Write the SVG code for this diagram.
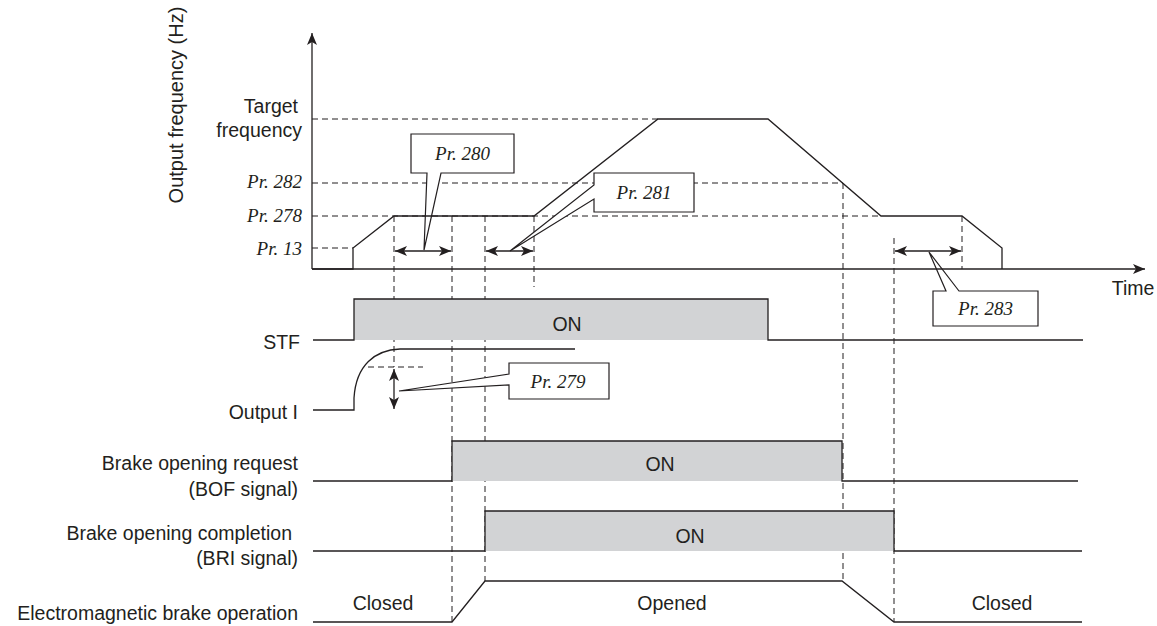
<svg xmlns="http://www.w3.org/2000/svg" width="1157" height="626" viewBox="0 0 1157 626">
<style>
.ln{fill:none;stroke:#231f20;stroke-width:1.3}
.ds{fill:none;stroke:#231f20;stroke-width:1;stroke-dasharray:6 4}
.on{fill:#d2d3d5;stroke:none}
.co{fill:#fff;stroke:#231f20;stroke-width:1.2}
.t{font-family:"Liberation Sans",Arial,sans-serif;font-size:19.5px;fill:#231f20}
.p{font-family:"Liberation Serif","Times New Roman",serif;font-style:italic;font-size:19px;fill:#231f20}
</style>
<defs>
<marker id="ah" viewBox="0 0 12 10" refX="12" refY="5" markerWidth="12" markerHeight="10" markerUnits="userSpaceOnUse" orient="auto-start-reverse">
<path d="M0,0 L12,5 L0,10 L3,5 Z" fill="#231f20"/>
</marker>
</defs>
<rect width="1157" height="626" fill="#fff"/>

<g id="grid">
<path class="ds" d="M312,119H658 M312,183H843 M312,216H881 M312,248H353"/>
<path class="ds" d="M394,216V367 M452,216V622 M485,216V581 M534,216V287 M843,183V581 M894,238V622 M962,216V269"/>
<path class="ds" d="M368,367H423"/>
</g>

<g id="shading">
<rect class="on" x="354" y="299" width="414" height="41"/>
<rect class="on" x="452" y="441" width="390" height="40"/>
<rect class="on" x="485" y="511" width="409" height="40"/>
</g>

<g id="callouts">
<g id="pr280"><path class="co" d="M411,134H514V173H441L424,250L427,173H411Z"/><text class="p" x="462.5" y="160" text-anchor="middle">Pr. 280</text></g>
<g id="pr281"><path class="co" d="M594,173H694V212H594V199L510,251L594,185Z"/><text class="p" x="644" y="199" text-anchor="middle">Pr. 281</text></g>
<g id="pr279"><path class="co" d="M509,363H609V399H509V385L399,391L509,374Z"/><text class="p" x="558" y="388" text-anchor="middle">Pr. 279</text></g>
<g id="pr283"><path class="co" d="M933,291H946L929,252L959,291H1038V326H933Z"/><text class="p" x="985.5" y="315" text-anchor="middle">Pr. 283</text></g>
</g>

<g id="connectors">
<path class="ln" d="M312,269V33" marker-end="url(#ah)"/>
<path class="ln" d="M312,269H1145" marker-end="url(#ah)"/>
<path class="ln" d="M395,251H451" marker-start="url(#ah)" marker-end="url(#ah)"/>
<path class="ln" d="M486,251H533" marker-start="url(#ah)" marker-end="url(#ah)"/>
<path class="ln" d="M895,251H961" marker-start="url(#ah)" marker-end="url(#ah)"/>
<path class="ln" d="M394,369V409" marker-start="url(#ah)" marker-end="url(#ah)"/>
</g>

<g id="frequency">
<path class="ln" d="M312,269H353V248L394,216H534L658,119H768L881,216H962L1002,248V269"/>
</g>

<g id="stf">
<path class="ln" d="M313,340H354V299H768V340H1083"/>
<text class="t" x="300" y="349" text-anchor="end">STF</text>
<text class="t" x="567" y="331" text-anchor="middle">ON</text>
</g>

<g id="outputI">
<path class="ln" d="M313,410H354V398C356,365 375,350 400,349H575"/>
<text class="t" x="298" y="419" text-anchor="end">Output I</text>
</g>

<g id="bof">
<path class="ln" d="M313,481H452V441H842V481H1078"/>
<text class="t" x="298" y="470" text-anchor="end">Brake opening request</text>
<text class="t" x="298" y="496" text-anchor="end">(BOF signal)</text>
<text class="t" x="660" y="471" text-anchor="middle">ON</text>
</g>

<g id="bri">
<path class="ln" d="M313,551H485V511H894V551H1082"/>
<text class="t" x="292" y="540" text-anchor="end">Brake opening completion</text>
<text class="t" x="298" y="565" text-anchor="end">(BRI signal)</text>
<text class="t" x="690" y="543" text-anchor="middle">ON</text>
</g>

<g id="brake">
<path class="ln" d="M313,622H452L485,581H842L894,622H1082"/>
<text class="t" x="298" y="620" text-anchor="end">Electromagnetic brake operation</text>
<text class="t" x="383" y="610" text-anchor="middle">Closed</text>
<text class="t" x="672" y="610" text-anchor="middle">Opened</text>
<text class="t" x="1002" y="610" text-anchor="middle">Closed</text>
</g>

<g id="axis-labels">
<text class="t" transform="translate(183,105) rotate(-90)" text-anchor="middle" style="font-size:20px">Output frequency (Hz)</text>
<text class="t" x="298" y="113" text-anchor="end">Target</text>
<text class="t" x="302" y="137" text-anchor="end">frequency</text>
<text class="p" x="302" y="188" text-anchor="end">Pr. 282</text>
<text class="p" x="302" y="222" text-anchor="end">Pr. 278</text>
<text class="p" x="302" y="255" text-anchor="end">Pr. 13</text>
<text class="t" x="1133" y="295" text-anchor="middle">Time</text>
</g>
</svg>
